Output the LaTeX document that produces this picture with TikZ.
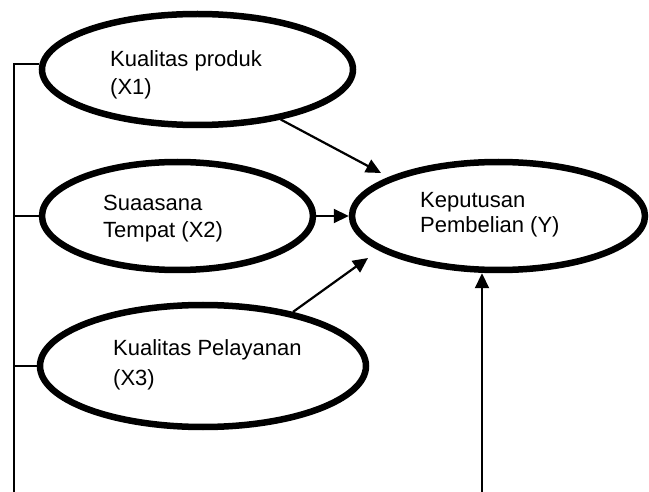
\documentclass[tikz,border=0pt]{standalone}
\usepackage{fontspec}
\setmainfont{Liberation Sans}
\usetikzlibrary{arrows.meta,shapes.geometric}
\begin{document}
\begin{tikzpicture}[x=1pt,y=-1pt,
  var/.style={draw=black,ellipse,line width=6.5pt,inner sep=0pt},
  lbl/.style={anchor=base west,align=left,inner sep=0pt,font=\fontsize{22}{28}\selectfont},
  thin/.style={line width=1.7pt},
  arr/.style={line width=2.2pt,-{Triangle[length=15pt,width=14pt]}}]
\useasboundingbox (0,0) rectangle (649,492);
% ellipses
\node[var,minimum width=311pt,minimum height=111pt] (x1) at (197.5,69.5) {};
\node[var,minimum width=271pt,minimum height=108pt] (x2) at (177.5,216) {};
\node[var,minimum width=326pt,minimum height=122pt] (x3) at (203,366) {};
\node[var,minimum width=293pt,minimum height=108pt] (y) at (498.5,216) {};
% labels (anchored at the baseline of the last line)
\node[lbl] (t1) at (110,95) {Kualitas produk\\(X1)};
\node[lbl] (t2) at (103,238) {Suaasana\\Tempat (X2)};
\node[lbl,font=\fontsize{22}{30}\selectfont] (t3) at (113,385) {Kualitas Pelayanan\\(X3)};
\node[lbl,font=\fontsize{22}{25}\selectfont] (ty) at (420,233) {Keputusan\\Pembelian (Y)};
% coordinates
\coordinate (lt) at (14,64);
\coordinate (lb) at (14,492);
\coordinate (bb) at (482,492);
\coordinate (a1) at (381,173);
\coordinate (a3) at (368,258);
% bracket
\draw[thin] (lb) -- (lt) -- (lt -| x1.west);
\draw[thin] (x2.west) -- (x2.west -| lt);
\draw[thin] (x3.west) -- (x3.west -| lt);
% arrows
\draw[arr] (x1.-31) -- (a1);
\draw[arr] (x2.east) -- (y.west);
\draw[arr] (x3.31) -- (a3);
\draw[arr] (bb) -- (bb |- y.south);
\end{tikzpicture}
\end{document}
